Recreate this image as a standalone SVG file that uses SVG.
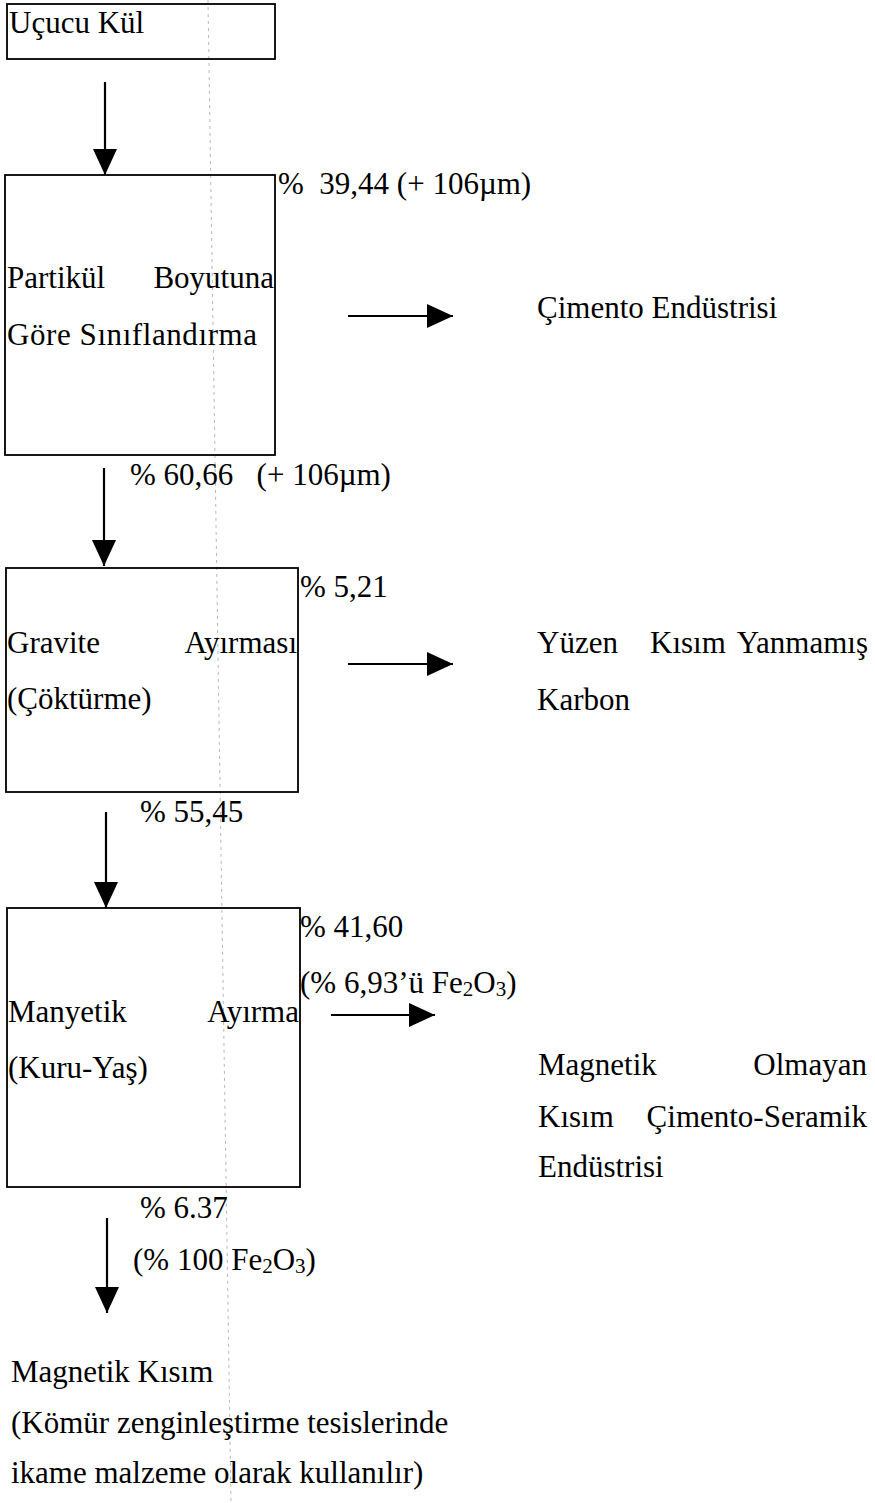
<svg xmlns="http://www.w3.org/2000/svg" width="875" height="1503" viewBox="0 0 875 1503">
<style>
.box{fill:none;stroke:#000;stroke-width:1.8}
.t{font-family:"Liberation Serif","Times New Roman",serif;font-size:31px;fill:#000}
.sub{font-size:21px}
.ln{stroke:#000;stroke-width:2.2;fill:none}
.guide{stroke:#b8b8b8;stroke-width:1;stroke-dasharray:3 4;fill:none}
</style>
<defs>
<marker id="ah" markerUnits="userSpaceOnUse" markerWidth="26" markerHeight="26" viewBox="0 0 26 26" refX="26" refY="13" orient="auto">
<path d="M0,1 L26,13 L0,25 Z" fill="#000"/>
</marker>
</defs>
<rect width="875" height="1503" fill="#fff"/>
<g id="guide"><line class="guide" x1="208" y1="0" x2="231" y2="1503"/></g>

<g id="connectors">
<line class="ln" x1="105" y1="82" x2="105" y2="175" marker-end="url(#ah)"/>
<line class="ln" x1="348" y1="316" x2="453" y2="316" marker-end="url(#ah)"/>
<line class="ln" x1="104" y1="468" x2="104" y2="566" marker-end="url(#ah)"/>
<line class="ln" x1="348" y1="664" x2="453" y2="664" marker-end="url(#ah)"/>
<line class="ln" x1="106" y1="812" x2="106" y2="908" marker-end="url(#ah)"/>
<line class="ln" x1="331" y1="1015" x2="435" y2="1015" marker-end="url(#ah)"/>
<line class="ln" x1="107" y1="1218" x2="107" y2="1313" marker-end="url(#ah)"/>
</g>

<g id="n-ucucu">
<rect class="box" x="7" y="4" width="268" height="55"/>
<text class="t" x="9" y="33">Uçucu Kül</text>
</g>

<g id="n-partikul">
<rect class="box" x="5" y="175" width="270" height="280"/>
<text class="t" x="7" y="288">Partikül</text>
<text class="t" x="274" y="288" text-anchor="end">Boyutuna</text>
<text class="t" x="7" y="345" textLength="250" lengthAdjust="spacing">Göre Sınıflandırma</text>
<text class="t" x="278" y="194" xml:space="preserve">%  39,44 (+ 106µm)</text>
<text class="t" x="130" y="485" xml:space="preserve">% 60,66   (+ 106µm)</text>
</g>

<g id="n-cimento">
<text class="t" x="537" y="318">Çimento Endüstrisi</text>
</g>

<g id="n-gravite">
<rect class="box" x="6" y="568" width="292" height="224"/>
<text class="t" x="7" y="653">Gravite</text>
<text class="t" x="297" y="653" text-anchor="end">Ayırması</text>
<text class="t" x="7" y="709">(Çöktürme)</text>
<text class="t" x="300" y="597">% 5,21</text>
<text class="t" x="140" y="822">% 55,45</text>
</g>

<g id="n-yuzen">
<text class="t" x="537" y="653">Yüzen</text>
<text class="t" x="650" y="653">Kısım</text>
<text class="t" x="868" y="653" text-anchor="end">Yanmamış</text>
<text class="t" x="537" y="710">Karbon</text>
</g>

<g id="n-manyetik">
<rect class="box" x="7" y="908" width="293" height="279"/>
<text class="t" x="8" y="1022">Manyetik</text>
<text class="t" x="299" y="1022" text-anchor="end">Ayırma</text>
<text class="t" x="8" y="1078">(Kuru-Yaş)</text>
<text class="t" x="300" y="937">% 41,60</text>
<text class="t" x="300" y="993">(% 6,93’ü Fe<tspan class="sub" dy="3">2</tspan><tspan dy="-3">O</tspan><tspan class="sub" dy="3">3</tspan><tspan dy="-3">)</tspan></text>
<text class="t" x="140" y="1218">% 6.37</text>
<text class="t" x="133" y="1270">(% 100 Fe<tspan class="sub" dy="3">2</tspan><tspan dy="-3">O</tspan><tspan class="sub" dy="3">3</tspan><tspan dy="-3">)</tspan></text>
</g>

<g id="n-olmayan">
<text class="t" x="538" y="1075">Magnetik</text>
<text class="t" x="867" y="1075" text-anchor="end">Olmayan</text>
<text class="t" x="538" y="1127">Kısım</text>
<text class="t" x="867" y="1127" text-anchor="end">Çimento-Seramik</text>
<text class="t" x="538" y="1177">Endüstrisi</text>
</g>

<g id="n-magnetik">
<text class="t" x="11" y="1382">Magnetik Kısım</text>
<text class="t" x="11" y="1433">(Kömür zenginleştirme tesislerinde</text>
<text class="t" x="11" y="1483">ikame malzeme olarak kullanılır)</text>
</g>
</svg>
